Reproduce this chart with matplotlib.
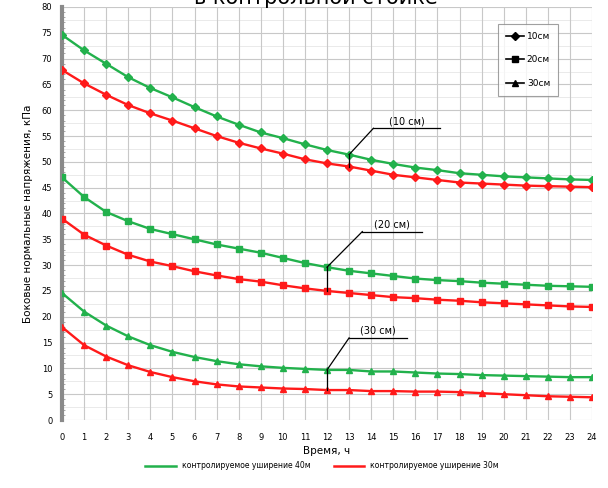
import matplotlib
matplotlib.use("Agg")
import matplotlib.pyplot as plt
from matplotlib.lines import Line2D
import numpy as np

hours = list(range(25))
green10 = [74.6, 71.6, 69.0, 66.4, 64.3, 62.5, 60.6, 58.8, 57.2, 55.7, 54.6, 53.4, 52.3, 51.4, 50.4, 49.6, 48.9, 48.4, 47.8, 47.5, 47.2, 47.0, 46.8, 46.6, 46.5]
red10 = [67.8, 65.2, 63.0, 61.0, 59.4, 58.0, 56.5, 55.0, 53.7, 52.6, 51.6, 50.5, 49.7, 49.1, 48.3, 47.5, 47.0, 46.5, 46.0, 45.8, 45.6, 45.4, 45.3, 45.2, 45.1]
green20 = [47.0, 43.2, 40.3, 38.5, 37.0, 36.0, 35.0, 34.0, 33.2, 32.4, 31.4, 30.4, 29.6, 28.9, 28.4, 27.9, 27.4, 27.1, 26.9, 26.6, 26.4, 26.2, 26.0, 25.9, 25.8]
red20 = [39.0, 35.9, 33.8, 32.0, 30.7, 29.8, 28.8, 28.0, 27.3, 26.8, 26.1, 25.5, 25.0, 24.6, 24.2, 23.8, 23.6, 23.3, 23.1, 22.8, 22.6, 22.4, 22.2, 22.0, 21.9]
green30 = [24.6, 21.0, 18.3, 16.2, 14.5, 13.2, 12.2, 11.4, 10.8, 10.4, 10.1, 9.9, 9.7, 9.7, 9.4, 9.4, 9.2, 9.0, 8.9, 8.7, 8.6, 8.5, 8.4, 8.3, 8.3]
red30 = [18.0, 14.5, 12.3, 10.6, 9.3, 8.3, 7.5, 6.9, 6.5, 6.3, 6.1, 6.0, 5.8, 5.8, 5.6, 5.6, 5.5, 5.5, 5.4, 5.2, 5.0, 4.8, 4.6, 4.5, 4.4]

depth_labels = ["10см", "20см", "30см"]
annot_labels = ["(10 см)", "(20 см)", "(30 см)"]
annot_hours = [13, 12, 12]
series_labels = ["контролируемое уширение 40м", "контролируемое уширение 30м"]
ylabel = "Боковые нормальные напряжения, кПа"
xlabel = "Время, ч"
title = "в контрольной стойке"

GREEN = "#22b14c"
RED = "#ff1a1a"

fig = plt.figure(figsize=(6.08, 4.88), dpi=100)
ax = fig.add_axes([62/608, 1-420/488, 530/608, 413/488])

markers = ["D", "s", "^"]
msizes = [4.2, 5, 5]
pairs = [(green10, red10), (green20, red20), (green30, red30)]
for (g, r), m, ms in zip(pairs, markers, msizes):
    ax.plot(hours, g, color=GREEN, marker=m, ms=ms, lw=1.7, zorder=3)
    ax.plot(hours, r, color=RED, marker=m, ms=ms, lw=1.7, zorder=3)

ax.set_xlim(0, 24)
ax.set_ylim(0, 80)
ax.set_xticks(hours)
ax.set_yticks(np.arange(0, 81, 5))
ax.set_yticks(np.arange(0, 80.01, 1), minor=True)
ax.grid(which="major", color="#c8c8c8", lw=0.8)
for yv in np.arange(2.5, 80, 5):
    ax.axhline(yv, color="#e6e6e6", lw=0.6, zorder=0)
ax.tick_params(axis="both", which="major", labelsize=6, length=0)
ax.tick_params(axis="x", which="major", pad=9)
ax.tick_params(axis="y", which="major", pad=7)
ax.tick_params(axis="y", which="minor", length=2, color="#999999", direction="in")
for s in ["top", "right", "bottom"]:
    ax.spines[s].set_visible(False)
ax.spines["left"].set_color("#8a8a8a")
ax.spines["left"].set_linewidth(3)
ax.set_xlabel(xlabel, fontsize=7.5, labelpad=3)
ax.set_ylabel(ylabel, fontsize=7.5, labelpad=6)

# annotations
text_offsets = [(1.1, 56.5), (1.6, 36.5), (1.0, 15.9)]
seg_len = [3.0, 2.7, 2.6]
for i, ((g, r), lab, h) in enumerate(zip(pairs, annot_labels, annot_hours)):
    gy, ry = g[h], r[h]
    tx, ty = h + text_offsets[i][0], text_offsets[i][1]
    ax.plot([h, h], [ry, gy], color="black", lw=0.9, zorder=4)
    ax.plot([h, tx], [gy, ty], color="black", lw=0.9, zorder=4)
    ax.plot([tx, tx + seg_len[i]], [ty, ty], color="black", lw=0.9, zorder=4)
    ax.text(tx + seg_len[i] / 2, ty + 0.4, lab, fontsize=7, ha="center", va="bottom", zorder=5)

# depth legend
handles = [Line2D([0], [0], color="black", marker=m, ms=ms, lw=1.2) for m, ms in zip(markers, msizes)]
leg = ax.legend(handles, depth_labels, loc="upper right", bbox_to_anchor=(0.945, 0.97),
                fontsize=6.5, frameon=True, fancybox=False, edgecolor="#888888",
                handlelength=2.0, labelspacing=1.6, borderpad=0.9, handletextpad=0.3)
leg.get_frame().set_linewidth(0.8)

# bottom legend
bh = [Line2D([0], [0], color=GREEN, lw=1.8), Line2D([0], [0], color=RED, lw=1.8)]
fig.legend(bh, series_labels, loc="center", bbox_to_anchor=(0.53, 1-466/488), ncol=2,
           fontsize=5.5, frameon=False, handlelength=4, columnspacing=3)

fig.text(0.52, 1-8/488, title, fontsize=15, ha="center", va="bottom")

fig.savefig("out.png", dpi=100)
